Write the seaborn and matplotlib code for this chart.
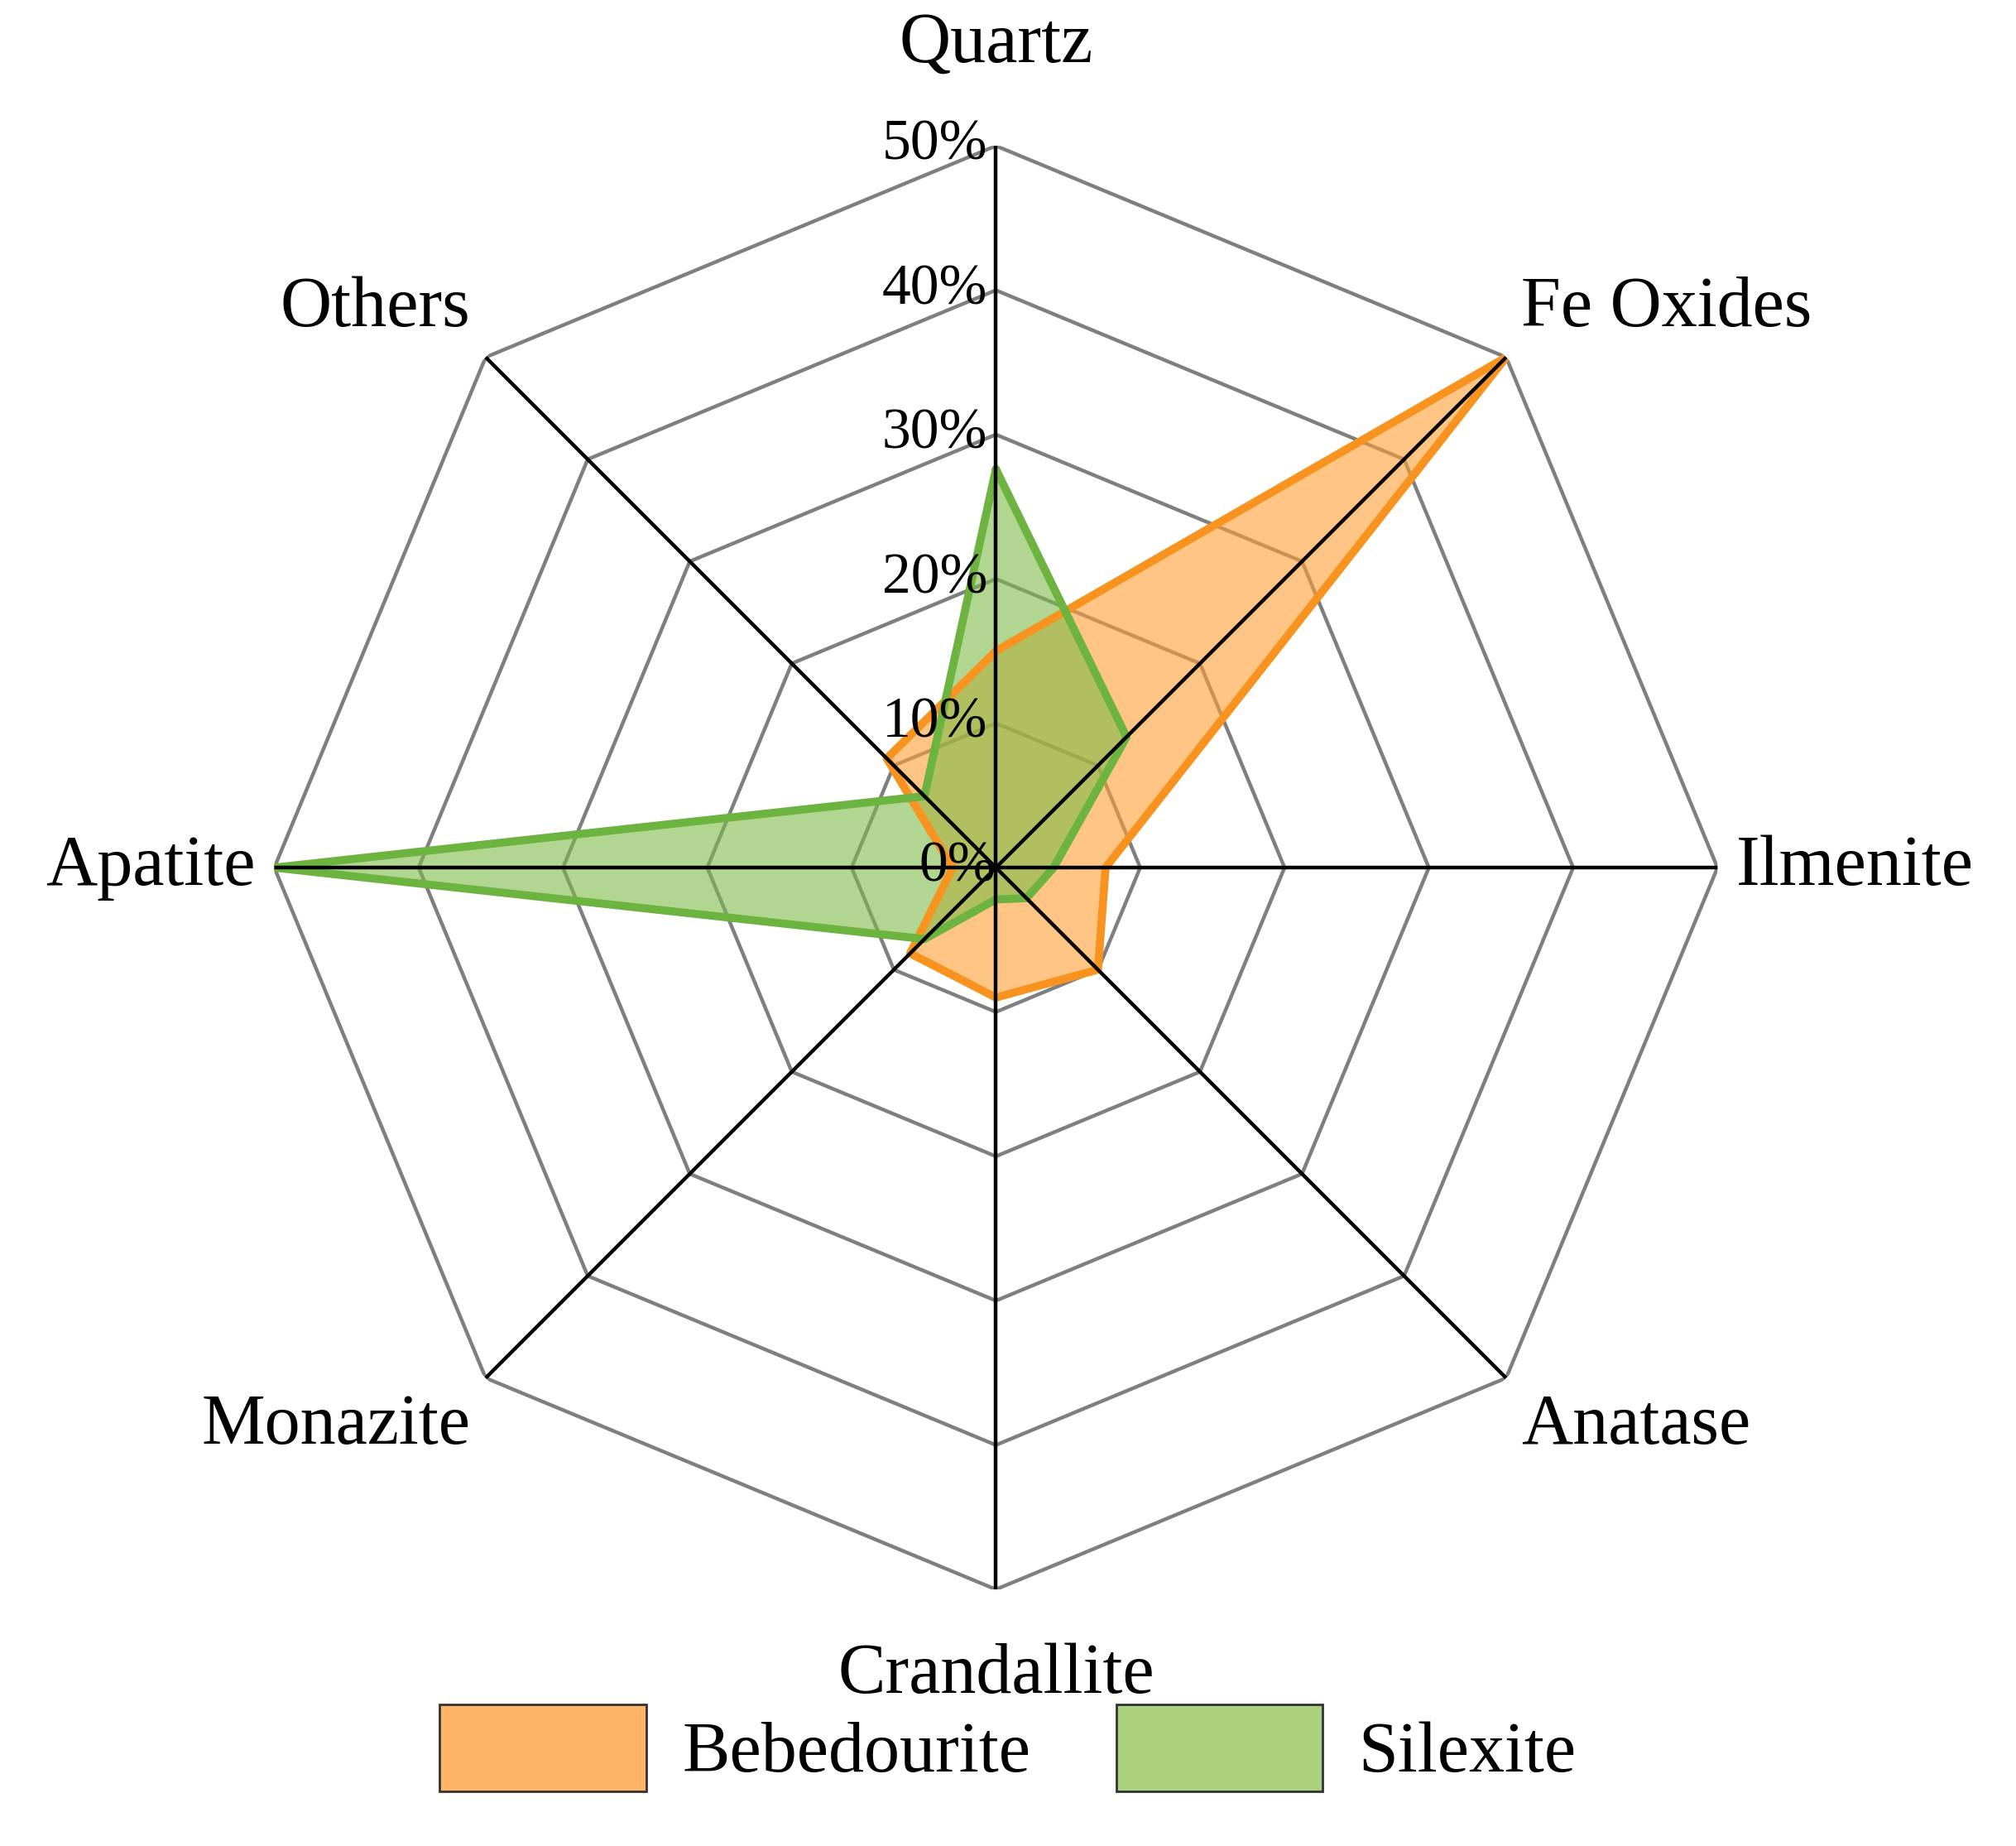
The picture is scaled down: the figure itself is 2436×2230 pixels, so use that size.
import numpy as np
import matplotlib
matplotlib.use("Agg")
import matplotlib.pyplot as plt
from matplotlib.patches import Patch
import seaborn as sns

sns.set_theme(style="white")
plt.rcParams["font.family"] = ["Liberation Serif", "DejaVu Serif"]
plt.rcParams["text.color"] = "black"

minerals = ["Quartz", "Fe Oxides", "Ilmenite", "Anatase", "Crandallite",
            "Monazite", "Apatite", "Others"]
bebedourite = [15, 50, 7.6, 10, 9, 8.4, 3, 10.7]
silexite = [27.6, 12.8, 4, 3, 2.2, 7, 50, 7]
ticks = [0, 10, 20, 30, 40, 50]

n = len(minerals)
theta = np.linspace(0, 2 * np.pi, n, endpoint=False)
tc = np.append(theta, theta[0])

fig = plt.figure(figsize=(12.18, 11.15), dpi=200)
ax = fig.add_axes([0.136, 0.139, 0.716, 0.782], projection="polar")
ax.set_theta_zero_location("N")
ax.set_theta_direction(-1)
ax.set_ylim(0, 50)
ax.grid(False)
ax.spines["polar"].set_visible(False)
ax.set_xticks([])
ax.set_yticks([])
ax.patch.set_alpha(0)

# octagonal grid
for r in ticks[1:]:
    ax.plot(tc, [r] * (n + 1), color="#7f7f7f", lw=1.6, zorder=1)
for t in theta:
    ax.plot([t, t], [0, 50], color="black", lw=1.6, zorder=4)

for vals, fc, ec in [(bebedourite, "#FF9F33", "#F7931E"),
                     (silexite, "#7DBB4A", "#6DB33F")]:
    v = np.append(vals, vals[0])
    ax.fill(tc, v, color=fc, alpha=0.6, zorder=2)
    ax.plot(tc, v, color=ec, lw=3.5, zorder=3)

for r in ticks:
    ax.text(-0.012 * 50 / max(r, 4), r, f"{r}%", ha="right", va="center",
            fontsize=25, zorder=5)

fs = 31
for t, lab in zip(theta, minerals):
    deg = np.degrees(t) % 360
    if deg == 0:
        ax.text(t, 57, lab, ha="center", va="center", fontsize=fs)
    elif deg == 180:
        ax.text(t, 56, lab, ha="center", va="center", fontsize=fs)
    elif deg == 90:
        ax.text(t, 51.3, lab, ha="left", va="center", fontsize=fs)
    elif deg == 270:
        ax.text(t, 51.3, lab, ha="right", va="center", fontsize=fs)
    elif deg < 90 or deg > 270:
        ax.text(t, 51.5, lab, ha="left" if deg < 180 else "right",
                va="bottom", fontsize=fs)
    else:
        ax.text(t, 51.5, lab, ha="left" if deg < 180 else "right",
                va="top", fontsize=fs)

handles = [Patch(facecolor="#FFB366", edgecolor="#333333", label="Bebedourite"),
           Patch(facecolor="#A9D17E", edgecolor="#333333", label="Silexite")]
fig.legend(handles=handles, loc="lower center", ncol=2, frameon=False,
           fontsize=fs, handlelength=2.9, handleheight=1.5, handletextpad=0.5,
           columnspacing=1.2, bbox_to_anchor=(0.5, -0.005))

fig.savefig("out.png", dpi=200, facecolor="white")
